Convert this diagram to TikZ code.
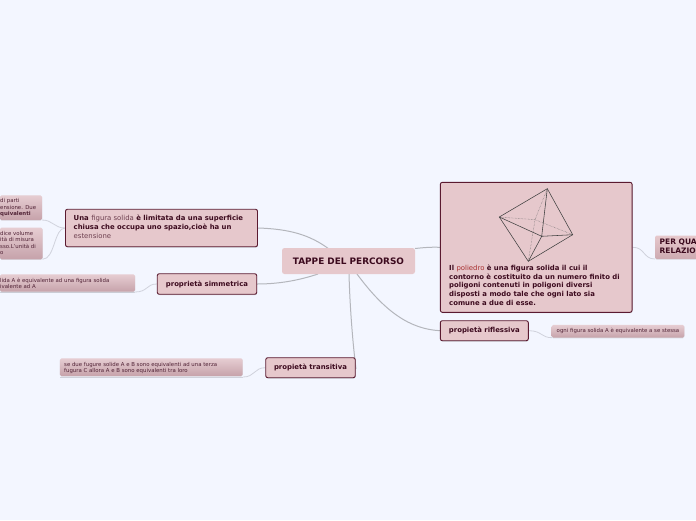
\documentclass[tikz,border=0pt]{standalone}
\usepackage{fontspec}
\setmainfont{DejaVu Sans}
\usetikzlibrary{backgrounds,shadows}
\definecolor{pagebg}{HTML}{F3F6FF}
\definecolor{boxfill}{HTML}{E6C8CC}
\definecolor{boxline}{HTML}{5A1A30}
\definecolor{ink}{HTML}{3C0A1E}
\definecolor{softink}{HTML}{6E4050}
\definecolor{leaftop}{HTML}{E6CDD2}
\definecolor{leafbot}{HTML}{C6A2AA}
\definecolor{mainline}{HTML}{B4B6BC}
\definecolor{leafline}{HTML}{D0D2DC}
\definecolor{redword}{HTML}{A83030}
\tikzset{
  x=1pt,y=-1pt,
  mainbox/.style={draw=boxline,line width=.9pt,fill=boxfill,rounded corners=2pt,drop shadow={shadow xshift=.4pt,shadow yshift=-.8pt,opacity=.35}},
  leafbox/.style={top color=leaftop,bottom color=leafbot,draw=none,rounded corners=1.5pt,drop shadow={shadow xshift=0pt,shadow yshift=-.6pt,opacity=.2}},
  bt/.style={text=ink,font=\bfseries\fontsize{6.9}{8.75}\selectfont,inner sep=0pt,align=left,anchor=north west},
  lt/.style={text=ink!90!white,font=\fontsize{5.4}{6.6}\selectfont,inner sep=0pt,align=left,anchor=north west},
  conn/.style={draw=mainline,line width=1pt},
  lconn/.style={draw=leafline,line width=.8pt},
  edge3d/.style={draw=black!75,line width=.55pt},
  hid3d/.style={draw=black!60,line width=.45pt,densely dotted},
}
\newcommand{\rg}[1]{{\mdseries\color{softink}#1}}
\begin{document}
\begin{tikzpicture}
\useasboundingbox (0,0) rectangle (696,520);
% central
\node[fill=boxfill,rounded corners=2.5pt,minimum width=133pt,minimum height=26pt,inner sep=0pt,text=ink,font=\bfseries\fontsize{8.9}{10}\selectfont] (root) at (348.5,261) {TAPPE DEL PERCORSO};
% main boxes
\node[mainbox,minimum width=192pt,minimum height=37.5pt,inner sep=0pt] (una) at (161.5,228) {};
\node[bt] (unat) at (73.5,214.8) {Una \rg{figura solida} è limitata da una superficie\\chiusa che occupa uno spazio,cioè ha un\\\rg{estensione}};
\node[mainbox,minimum width=99.5pt,minimum height=20.5pt,inner sep=0pt,bt,anchor=center,align=center] (simm) at (207,284) {proprietà simmetrica};
\node[mainbox,minimum width=89.5pt,minimum height=20pt,inner sep=0pt,bt,anchor=center,align=center] (trans) at (310.5,367.7) {propietà transitiva};
\node[mainbox,minimum width=191.7pt,minimum height=130pt,inner sep=0pt] (poli) at (536.2,247.3) {};
\node[bt] (polit) at (449,264.6) {Il {\mdseries\color{redword}poliedro} è una figura solida il cui il\\contorno è costituito da un numero finito di\\poligoni contenuti in poligoni diversi\\disposti a modo tale che ogni lato sia\\comune a due di esse.};
\node[mainbox,minimum width=88pt,minimum height=20pt,inner sep=0pt,bt,anchor=center,align=center] (rifl) at (484.3,330.7) {propietà riflessiva};
% clipped box at the right edge
\path[leafbox,top color=boxfill,bottom color=leafbot!80!boxfill] (655,235.7) rectangle (697,259);
\coordinate (perw) at (655,259);
\node[bt,font=\bfseries\fontsize{7.5}{8.7}\selectfont] (pert) at (659.5,239) {PER QUA\\RELAZIO};
% leaves
\node[leafbox,minimum width=132.6pt,minimum height=12.7pt,inner sep=0pt,lt,anchor=center,align=center] (ogni) at (618,331.3) {ogni figura solida A è equivalente a se stessa};
\path[leafbox] (0,195.3) rectangle (42,220);
\coordinate (l1e) at (42,220);
\node[lt] (l1) at (0,198.4) {di parti\\ensione. Due\\\textbf{quivalenti}};
\path[leafbox] (0,227.7) rectangle (42.5,259.3);
\coordinate (l2e) at (42.5,259.3);
\node[lt] (l2) at (0,230.7) {dice volume\\ità di misura\\sso.L'unità di\\o};
\path[leafbox] (0,274.3) rectangle (135,291.7);
\coordinate (l3e) at (135,292);
\node[lt] (l3) at (0,277.8) {lida A è equivalente ad una figura solida\\ivalente ad A};
\node[leafbox,minimum width=182.7pt,minimum height=17.7pt,inner sep=0pt] (l4) at (151.3,367.2) {};
\node[lt] (l4t) at (64,361.7) {se due fugure solide A e B sono equivalenti ad una terza\\fugura C allora A e B sono equivalenti tra loro};
% polyhedron
\coordinate (ptop) at (547.3,188.7);
\coordinate (pleft) at (499.3,217);
\coordinate (pright) at (572.7,234.7);
\coordinate (pbot) at (528.3,261.3);
\coordinate (pfront) at (541.7,236.3);
\coordinate (pback) at (535,219.7);
\draw[edge3d] (ptop)--(pleft)--(pbot)--(pright)--cycle;
\draw[edge3d] (ptop)--(pfront)--(pbot) (pleft)--(pfront)--(pright);
\draw[hid3d] (pleft)--(pback)--(pright) (ptop)--(pback)--(pbot);
% connectors
\begin{scope}[on background layer]
\fill[pagebg] (0,0) rectangle (696,520);
\draw[conn] (una.east) .. controls (290,229) and (310,235) .. (329,249);
\draw[conn] (simm.east) .. controls (280,284) and (300,280) .. (318,274);
\draw[conn] (349,274) .. controls (350,310) and (353,345) .. (356,369);
\draw[conn] (poli.west) .. controls (430,247) and (425,247.5) .. (415,248.5);
\draw[conn] (357,274) .. controls (385,312) and (410,329) .. (rifl.west);
\draw[lconn] (poli.east) .. controls (645,247) and (643,259) .. (perw);
\draw[lconn] (rifl.east) .. controls (542,330.7) and (541,337.7) .. (552,337.7);
\draw[lconn] (una.west) .. controls (54,228) and (53,220) .. (l1e);
\draw[lconn] (una.west) .. controls (54,228) and (55,259.3) .. (l2e);
\draw[lconn] (simm.west) .. controls (146,284) and (148,292) .. (l3e);
\draw[lconn] (0,292) -- (l3e);
\draw[lconn] (trans.west) .. controls (254,367.7) and (255,377) .. (243,377);
\draw[lconn] (60,377) -- (243,377);
\end{scope}
\end{tikzpicture}
\end{document}
